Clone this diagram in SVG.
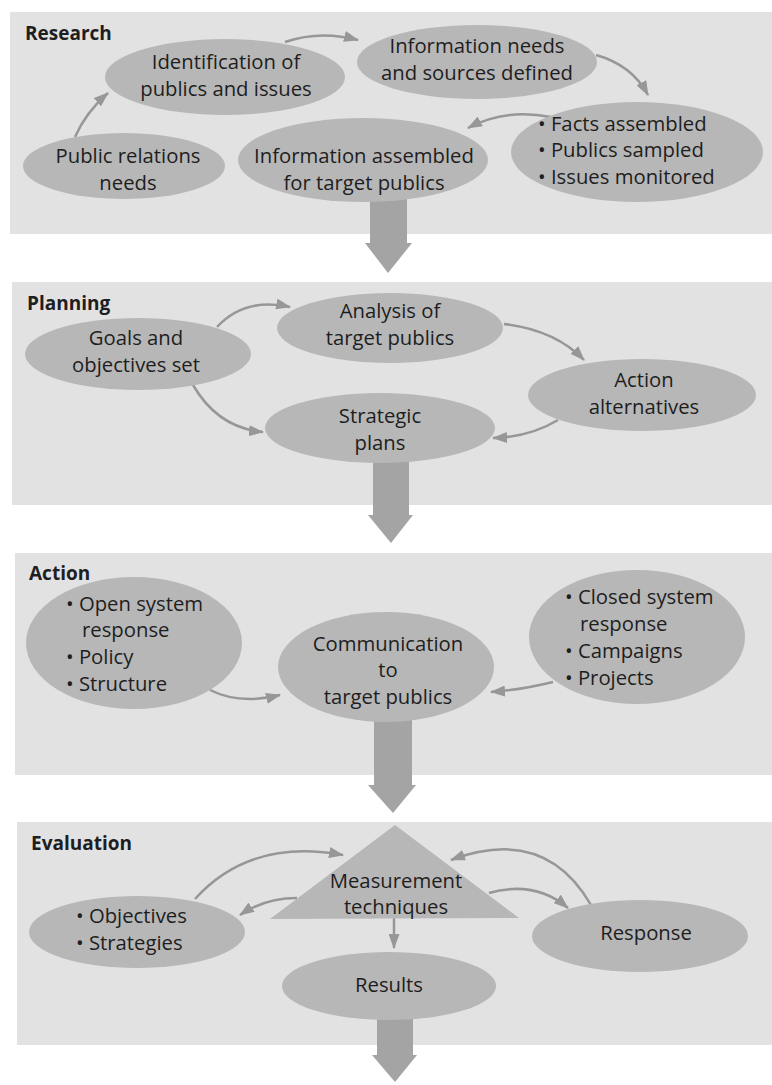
<svg xmlns="http://www.w3.org/2000/svg" width="772" height="1085" viewBox="0 0 772 1085">
  <style>
    .panel { fill: #e2e2e2; }
    .node { fill: #b7b7b7; }
    .big { fill: #a4a4a4; }
    .link { fill: none; stroke: #979797; stroke-width: 2.5; marker-end: url(#head); }
    text { font-family: "Open Sans", "Noto Sans", "Liberation Sans", sans-serif; fill: #1e1e1e; }
    .lbl { font-size: 20.3px; text-anchor: middle; }
    .lst { font-size: 20.3px; }
    .title { font-size: 19px; font-weight: bold; }
  </style>
  <defs>
    <marker id="head" markerUnits="userSpaceOnUse" markerWidth="15" markerHeight="11" refX="14" refY="5.5" orient="auto">
      <path d="M0,0 L15,5.5 L0,11 z" fill="#979797"/>
    </marker>
  </defs>

  <rect width="772" height="1085" fill="#ffffff"/>

  <!-- stage panels -->
  <g id="panels">
    <rect class="panel" x="10" y="12" width="762" height="222"/>
    <rect class="panel" x="12" y="282" width="760" height="223"/>
    <rect class="panel" x="15" y="553" width="757" height="222"/>
    <rect class="panel" x="17" y="822" width="755" height="223"/>
  </g>

  <!-- flow arrows between stages -->
  <g id="stage-arrows">
    <path class="big" d="M370,195 L407,195 L407,243 L412,243 L388,273 L365,243 L370,243 z"/>
    <path class="big" d="M373,455 L409,455 L409,515 L413,515 L391,543 L368,515 L373,515 z"/>
    <path class="big" d="M374,715 L412,715 L412,785 L416,785 L393,813 L368,785 L374,785 z"/>
    <path class="big" d="M377,1012 L413,1012 L413,1055 L417,1055 L395,1082 L372,1055 L377,1055 z"/>
  </g>

  <!-- connectors -->
  <g id="connectors">
    <path class="link" d="M75,137 Q86,112 108,93"/>
    <path class="link" d="M285,42 Q320,30 358,40"/>
    <path class="link" d="M596,55 Q632,65 648,95"/>
    <path class="link" d="M551,117 Q505,108 468,128"/>
    <path class="link" d="M217,327 Q245,297 290,307"/>
    <path class="link" d="M193,385 Q218,428 263,432"/>
    <path class="link" d="M504,324 Q555,330 584,360"/>
    <path class="link" d="M558,420 Q530,437 493,438"/>
    <path class="link" d="M210,690 Q240,705 280,695"/>
    <path class="link" d="M553,682 Q520,690 491,692"/>
    <path class="link" d="M195,899 Q250,838 343,855"/>
    <path class="link" d="M297,898 Q265,898 240,915"/>
    <path class="link" d="M591,905 Q545,825 451,860"/>
    <path class="link" d="M489,893 Q535,880 568,908"/>
    <path class="link" d="M394,917 L394,948"/>
  </g>

  <!-- Research -->
  <text class="title" x="25" y="40">Research</text>
  <g id="pr-needs">
    <ellipse class="node" cx="124" cy="166" rx="101" ry="33"/>
    <text class="lbl" x="128" y="163">Public relations</text>
    <text class="lbl" x="128" y="190">needs</text>
  </g>
  <g id="identification">
    <ellipse class="node" cx="225" cy="77" rx="120" ry="38"/>
    <text class="lbl" x="226" y="69">Identification of</text>
    <text class="lbl" x="226" y="96">publics and issues</text>
  </g>
  <g id="info-needs">
    <ellipse class="node" cx="477" cy="62" rx="120" ry="37"/>
    <text class="lbl" x="477" y="53">Information needs</text>
    <text class="lbl" x="477" y="80">and sources defined</text>
  </g>
  <g id="facts">
    <ellipse class="node" cx="637" cy="152" rx="126" ry="50"/>
    <text class="lst" x="538" y="131">• Facts assembled</text>
    <text class="lst" x="538" y="157">• Publics sampled</text>
    <text class="lst" x="538" y="184">• Issues monitored</text>
  </g>
  <g id="info-assembled">
    <ellipse class="node" cx="363" cy="160" rx="125" ry="42"/>
    <text class="lbl" x="364" y="163">Information assembled</text>
    <text class="lbl" x="364" y="190">for target publics</text>
  </g>

  <!-- Planning -->
  <text class="title" x="27" y="310">Planning</text>
  <g id="goals">
    <ellipse class="node" cx="138" cy="354" rx="113" ry="36"/>
    <text class="lbl" x="136" y="345">Goals and</text>
    <text class="lbl" x="136" y="372">objectives set</text>
  </g>
  <g id="analysis">
    <ellipse class="node" cx="390" cy="328" rx="113" ry="35"/>
    <text class="lbl" x="390" y="318">Analysis of</text>
    <text class="lbl" x="390" y="345">target publics</text>
  </g>
  <g id="alternatives">
    <ellipse class="node" cx="642" cy="395" rx="114" ry="36"/>
    <text class="lbl" x="644" y="387">Action</text>
    <text class="lbl" x="644" y="414">alternatives</text>
  </g>
  <g id="strategic">
    <ellipse class="node" cx="380" cy="428" rx="115" ry="35"/>
    <text class="lbl" x="380" y="423">Strategic</text>
    <text class="lbl" x="380" y="450">plans</text>
  </g>

  <!-- Action -->
  <text class="title" x="29" y="580">Action</text>
  <g id="open-system">
    <ellipse class="node" cx="134" cy="643" rx="108" ry="66"/>
    <text class="lst" x="66" y="611">• Open system</text>
    <text class="lst" x="82" y="637">response</text>
    <text class="lst" x="66" y="664">• Policy</text>
    <text class="lst" x="66" y="691">• Structure</text>
  </g>
  <g id="communication">
    <ellipse class="node" cx="386" cy="667" rx="108" ry="55"/>
    <text class="lbl" x="388" y="651">Communication</text>
    <text class="lbl" x="388" y="677">to</text>
    <text class="lbl" x="388" y="704">target publics</text>
  </g>
  <g id="closed-system">
    <ellipse class="node" cx="637" cy="637" rx="108" ry="67"/>
    <text class="lst" x="565" y="604">• Closed system</text>
    <text class="lst" x="580" y="631">response</text>
    <text class="lst" x="565" y="658">• Campaigns</text>
    <text class="lst" x="565" y="685">• Projects</text>
  </g>

  <!-- Evaluation -->
  <text class="title" x="31" y="850">Evaluation</text>
  <g id="measurement">
    <polygon class="node" points="395,825 519,918 270,919"/>
    <text class="lbl" x="396" y="888">Measurement</text>
    <text class="lbl" x="396" y="914">techniques</text>
  </g>
  <g id="objectives">
    <ellipse class="node" cx="137" cy="932" rx="108" ry="36"/>
    <text class="lst" x="76" y="923">• Objectives</text>
    <text class="lst" x="76" y="950">• Strategies</text>
  </g>
  <g id="response">
    <ellipse class="node" cx="640" cy="936" rx="108" ry="36"/>
    <text class="lbl" x="646" y="940">Response</text>
  </g>
  <g id="results">
    <ellipse class="node" cx="389" cy="986" rx="107" ry="34"/>
    <text class="lbl" x="389" y="992">Results</text>
  </g>
</svg>
